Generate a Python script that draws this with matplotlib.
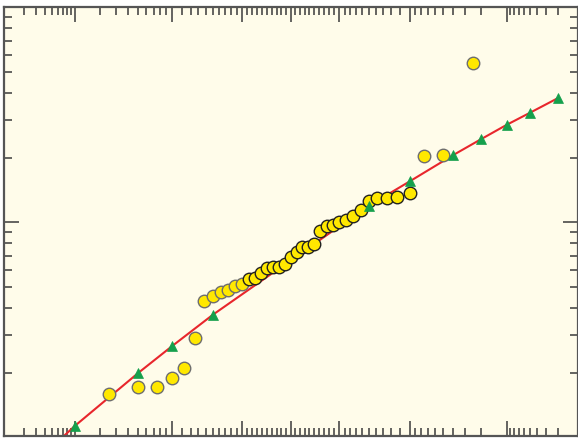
"""Probability plot: observed values vs fitted frequency curve."""
import math

import matplotlib
matplotlib.use("Agg")
import matplotlib.pyplot as plt
import numpy as np
from matplotlib.ticker import FixedLocator, NullFormatter

# observed values (non-exceedance %, value), grey-edged circles
obs_pct_grey = [2.5, 5.0, 7.5, 10.0, 12.5, 15.0, 17.5, 20.0, 22.5, 25.0, 27.5, 30.0,
                92.5, 95.0, 97.5]
obs_val_grey = [1.59, 1.72, 1.72, 1.88, 2.10, 2.89, 4.31, 4.56, 4.73, 4.86, 5.07, 5.16,
                20.4, 20.56, 55.1]
# observed values, dark-edged circles
obs_pct_dark = [32.5, 35.0, 37.5, 40.0, 42.5, 45.0, 47.5, 50.0, 52.5, 55.0, 57.5, 60.0,
                62.5, 65.0, 67.5, 70.0, 72.5, 75.0, 77.5, 80.0, 82.5, 85.0, 87.5, 90.0]
obs_val_dark = [5.45, 5.49, 5.79, 6.11, 6.22, 6.22, 6.40, 6.88, 7.30, 7.66, 7.68, 7.97,
                9.11, 9.64, 9.71, 10.0, 10.25, 10.67, 11.41, 12.6, 12.93, 12.97, 13.15, 13.64]

# fitted curve and its quantile markers
fit_pct = [0.5, 1, 5, 10, 20, 80, 90, 96, 98, 99, 99.5, 99.8]
fit_val = [0.90, 1.13, 1.99, 2.65, 3.71, 11.95, 15.5, 20.55, 24.4, 28.4, 32.3, 37.8]
tri_pct = [1, 5, 10, 20, 80, 90, 96, 98, 99, 99.5, 99.8]
tri_val = [1.13, 1.99, 2.65, 3.71, 11.95, 15.5, 20.55, 24.4, 28.4, 32.3, 37.8]

x_major = [1, 10, 30, 50, 70, 90, 99]
x_minor = ([0.2, 0.3, 0.4, 0.5, 0.6, 0.7, 0.8, 0.9]
           + [2, 3, 4, 5, 6, 7, 8, 9]
           + [12, 14, 16, 18, 20, 22, 24, 26, 28, 32, 34, 36, 38, 40, 42, 44, 46, 48,
              52, 54, 56, 58, 60, 62, 64, 66, 68, 72, 74, 76, 78, 80, 82, 84, 86, 88]
           + [91, 92, 93, 94, 95, 96, 97, 98]
           + [99.1, 99.2, 99.3, 99.4, 99.5, 99.6, 99.7, 99.8])
y_major = [10]
y_minor = [2, 3, 4, 5, 6, 7, 8, 9, 20, 30, 40, 50, 60, 70, 80, 90]


def _ppf(q):
    # Acklam's rational approximation of the normal quantile
    q = np.clip(np.asarray(q, dtype=float), 1e-12, 1 - 1e-12)
    a = [-3.969683028665376e+01, 2.209460984245205e+02, -2.759285104469687e+02,
         1.383577518672690e+02, -3.066479806614716e+01, 2.506628277459239e+00]
    b = [-5.447609879822406e+01, 1.615858368580409e+02, -1.556989798598866e+02,
         6.680131188771972e+01, -1.328068155288572e+01]
    c = [-7.784894002430293e-03, -3.223964580411365e-01, -2.400758277161838e+00,
         -2.549732539343734e+00, 4.374664141464968e+00, 2.938163982698783e+00]
    d = [7.784695709041462e-03, 3.224671290700398e-01, 2.445134137142996e+00,
         3.754408661907416e+00]
    lo, hi = 0.02425, 1 - 0.02425
    out = np.empty_like(q)
    m = q < lo
    t = np.sqrt(-2 * np.log(q[m]))
    out[m] = ((((((c[0]*t+c[1])*t+c[2])*t+c[3])*t+c[4])*t+c[5])
              / ((((d[0]*t+d[1])*t+d[2])*t+d[3])*t+1))
    m = q > hi
    t = np.sqrt(-2 * np.log(1 - q[m]))
    out[m] = -((((((c[0]*t+c[1])*t+c[2])*t+c[3])*t+c[4])*t+c[5])
               / ((((d[0]*t+d[1])*t+d[2])*t+d[3])*t+1))
    m = (q >= lo) & (q <= hi)
    r = q[m] - 0.5
    s = r * r
    out[m] = ((((((a[0]*s+a[1])*s+a[2])*s+a[3])*s+a[4])*s+a[5])*r
              / (((((b[0]*s+b[1])*s+b[2])*s+b[3])*s+b[4])*s+1))
    return out


_erf = np.vectorize(math.erf)


def prob_fwd(p):
    return _ppf(np.asarray(p, dtype=float) / 100.0)


def prob_inv(z):
    return 50.0 * (1.0 + _erf(np.asarray(z, dtype=float) / math.sqrt(2)))


BG = "#fffcea"
SPINE = "#555555"
TICK = "#3a3a3a"

fig = plt.figure(figsize=(5.78, 4.39), dpi=100)
ax = fig.add_axes([4.0 / 578, 2.0 / 439, 573.5 / 578, 429.5 / 439])
ax.set_facecolor(BG)

ax.set_xscale("function", functions=(prob_fwd, prob_inv))
ax.set_yscale("log")
ax.set_xlim(0.1, 99.9)
ax.set_ylim(1.014, 100.9)

ax.plot(fit_pct, fit_val, color="#e8262c", lw=1.5, zorder=2)
ax.plot(obs_pct_grey, obs_val_grey, ls="none", marker="o", ms=9,
        mfc="#ffe800", mec="#6e6e6e", mew=1.0, zorder=3)
ax.plot(obs_pct_dark, obs_val_dark, ls="none", marker="o", ms=9,
        mfc="#ffe800", mec="#222222", mew=1.0, zorder=3)
ax.plot(tri_pct, tri_val, ls="none", marker="^", ms=7.5,
        mfc="#15a04c", mec="#15a04c", mew=0.5, zorder=4)

ax.xaxis.set_major_locator(FixedLocator(x_major))
ax.xaxis.set_minor_locator(FixedLocator(x_minor))
ax.yaxis.set_major_locator(FixedLocator(y_major))
ax.yaxis.set_minor_locator(FixedLocator(y_minor))
for axis in (ax.xaxis, ax.yaxis):
    axis.set_major_formatter(NullFormatter())
    axis.set_minor_formatter(NullFormatter())
ax.tick_params(which="both", direction="in", top=True, right=True,
               color=TICK, width=1.1)
ax.tick_params(which="major", length=11)
ax.tick_params(which="minor", length=6)

for sp in ax.spines.values():
    sp.set_color(SPINE)
    sp.set_linewidth(1.6)

fig.savefig("out.png", dpi=100)
plt.close(fig)
